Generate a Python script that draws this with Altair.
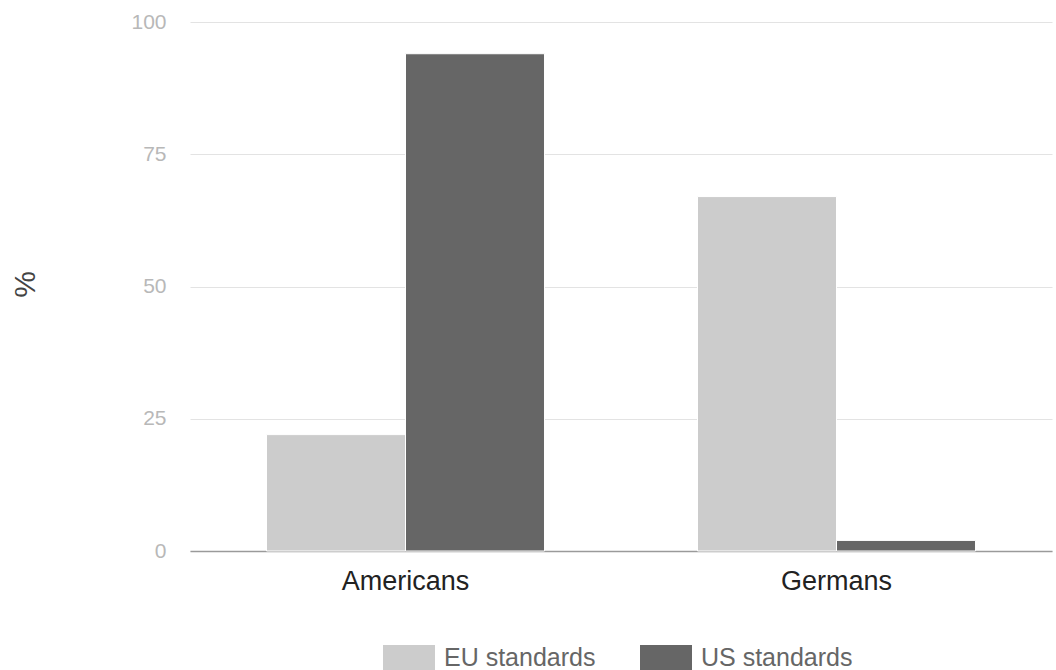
import altair as alt
import pandas as pd

groups = ["Americans", "Americans", "Germans", "Germans"]
series = ["EU standards", "US standards", "EU standards", "US standards"]
values = [22, 94, 67, 2]

df = pd.DataFrame({"group": groups, "series": series, "value": values})

FONT = "Liberation Sans"

chart = alt.Chart(df).mark_bar(stroke="white", strokeWidth=1).encode(
    x=alt.X("group:N", title=None,
            scale=alt.Scale(paddingInner=0.355, paddingOuter=0.1775),
            axis=alt.Axis(labelAngle=0, labelFontSize=27, labelColor="#222222",
                          labelFont=FONT, labelPadding=17, ticks=False,
                          domainColor="#9a9a9a", domainWidth=1.5, grid=False)),
    xOffset=alt.XOffset("series:N", scale=alt.Scale(paddingInner=0.0)),
    y=alt.Y("value:Q", title="%",
            scale=alt.Scale(domain=[0, 100]),
            axis=alt.Axis(values=[0, 25, 50, 75, 100], ticks=False, domain=False,
                          labelFontSize=21, labelColor="#b8b8b8", labelFont=FONT,
                          labelPadding=24, gridColor="#e3e3e3",
                          titleFont=FONT, titleFontSize=30, titleFontWeight="normal",
                          titleColor="#444444", titleX=-150, titleY=262)),
    color=alt.Color("series:N", title=None,
                    scale=alt.Scale(domain=["EU standards", "US standards"],
                                    range=["#cccccc", "#666666"]),
                    legend=alt.Legend(orient="none", legendX=193, legendY=610,
                                      direction="horizontal", columns=2,
                                      padding=0,
                                      symbolType="M-1,-0.5L1,-0.5L1,0.5L-1,0.5Z",
                                      symbolSize=2704, symbolStrokeWidth=0,
                                      symbolOpacity=1,
                                      labelFont=FONT, labelFontSize=25,
                                      labelColor="#666666", labelOffset=9,
                                      columnPadding=44)),
).properties(
    width=862, height=529,
    autosize=alt.AutoSizeParams(type="none"),
    padding={"left": 190, "top": 22, "right": 4, "bottom": 119},
).configure_view(stroke=None)

chart.save("out.html", embed_options={"renderer": "svg", "actions": False})
